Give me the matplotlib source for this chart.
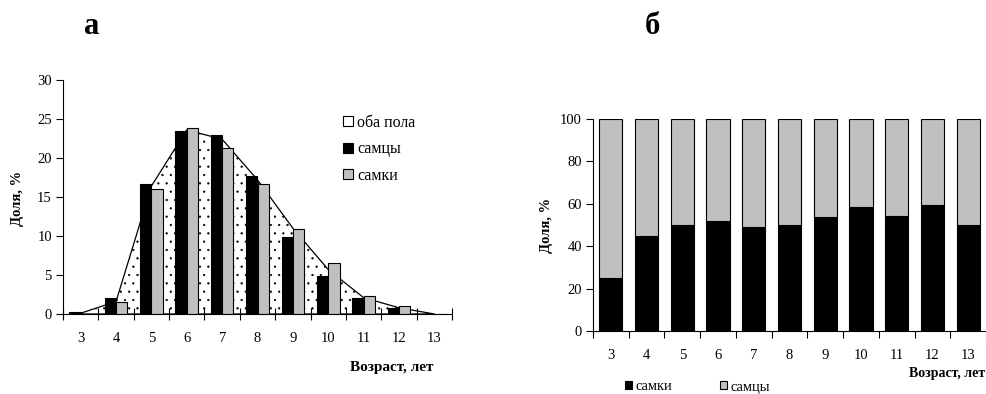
import numpy as np
import matplotlib
matplotlib.use("Agg")
import matplotlib.pyplot as plt
from matplotlib.patches import Patch

plt.rcParams['font.family'] = ['Liberation Serif', 'DejaVu Serif']
plt.rcParams['hatch.linewidth'] = 0.4

# data
ages = ['3', '4', '5', '6', '7', '8', '9', '10', '11', '12', '13']
both = [0.1, 1.6, 16.4, 23.6, 22.4, 17.2, 11.0, 5.7, 2.1, 0.8, 0.0]
males = [0.2, 2.0, 16.7, 23.5, 23.0, 17.7, 9.9, 4.85, 2.0, 0.75, 0.0]
females = [0.0, 1.5, 16.0, 23.9, 21.3, 16.7, 10.9, 6.55, 2.3, 1.0, 0.0]

# share of females per age, %
fem_share = [25, 45, 50, 51.7, 49.1, 50, 53.7, 58.4, 54.3, 59.5, 50]
male_share = [100 - f for f in fem_share]

W, H = 987, 394
fig = plt.figure(figsize=(W / 100, H / 100), dpi=100)


def box(l, t, r, b):
    return [l / W, 1 - b / H, (r - l) / W, (b - t) / H]


def px(x, y):
    return x / W, 1 - y / H


x = np.arange(len(ages))
edges = np.arange(len(ages) + 1) - 0.5

# ---- chart a
ax = fig.add_axes(box(63, 80, 452, 314))
ax.fill_between(x, both, color='white', hatch='..', edgecolor='black',
                linewidth=0.9, zorder=1)
w = 0.32
ax.bar(x - w / 2, males, w, color='black', edgecolor='black', linewidth=0.8, zorder=2)
ax.bar(x + w / 2, females, w, color='#c0c0c0', edgecolor='black', linewidth=0.8, zorder=2)
ax.set_xlim(-0.5, len(ages) - 0.5)
ax.set_ylim(0, 30)
ax.set_yticks(np.arange(0, 31, 5))
ax.set_xticks(edges)
ax.set_xticklabels([])
ax.set_xticks(x, minor=True)
ax.set_xticklabels(ages, minor=True)
ax.tick_params(axis='x', which='major', direction='inout', length=9, width=0.8)
ax.tick_params(axis='x', which='minor', length=0, pad=13, labelsize=10.5)
ax.tick_params(axis='y', direction='out', length=5, width=0.8, labelsize=10.5, pad=3)
for s in ['top', 'right']:
    ax.spines[s].set_visible(False)
for s in ['left', 'bottom']:
    ax.spines[s].set_linewidth(0.8)

handles = [Patch(facecolor='white', edgecolor='black', hatch='.', linewidth=0.8),
           Patch(facecolor='black', edgecolor='black', linewidth=0.8),
           Patch(facecolor='#c0c0c0', edgecolor='black', linewidth=0.8)]
fig.legend(handles, ['оба пола', 'самцы', 'самки'], loc='upper left',
           bbox_to_anchor=px(343, 115), frameon=False, fontsize=11.5,
           handlelength=0.6, handleheight=0.6, handletextpad=0.3,
           labelspacing=0.65, borderpad=0, borderaxespad=0)

fig.text(*px(18, 198), 'Доля, %', rotation=90, ha='center', va='center',
         fontsize=10.5, fontweight='bold')
fig.text(*px(392, 368), 'Возраст, лет', ha='center', va='center',
         fontsize=11, fontweight='bold')
fig.text(*px(92, 26), 'а', ha='center', va='center', fontsize=22, fontweight='bold')

# ---- chart b
bx = fig.add_axes(box(593, 119, 986, 331))
bw = 0.65
bx.bar(x, fem_share, bw, color='black', edgecolor='black', linewidth=0.8)
bx.bar(x, male_share, bw, bottom=fem_share, color='#c0c0c0', edgecolor='black',
       linewidth=0.8)
bx.set_xlim(-0.5, len(ages) - 0.5)
bx.set_ylim(0, 100)
bx.set_yticks(np.arange(0, 101, 20))
bx.set_xticks(edges)
bx.set_xticklabels([])
bx.set_xticks(x, minor=True)
bx.set_xticklabels(ages, minor=True)
bx.tick_params(axis='x', which='major', direction='out', length=5, width=0.8)
bx.tick_params(axis='x', which='minor', length=0, pad=13, labelsize=10.5)
bx.tick_params(axis='y', direction='out', length=5, width=0.8, labelsize=10.5, pad=3)
for s in ['top', 'right']:
    bx.spines[s].set_visible(False)
for s in ['left', 'bottom']:
    bx.spines[s].set_linewidth(0.8)

fig.legend([Patch(facecolor='black', edgecolor='black', linewidth=0.8),
            Patch(facecolor='#c0c0c0', edgecolor='black', linewidth=0.8)],
           ['самки', 'самцы'], loc='center left', bbox_to_anchor=px(625, 387),
           ncol=2, frameon=False, fontsize=10.5, handlelength=0.5, handleheight=0.5,
           handletextpad=0.2, columnspacing=3.3, borderpad=0, borderaxespad=0)

fig.text(*px(547, 225), 'Доля, %', rotation=90, ha='center', va='center',
         fontsize=10.5, fontweight='bold')
fig.text(*px(947, 373), 'Возраст, лет', ha='center', va='center',
         fontsize=10, fontweight='bold')
fig.text(*px(652, 26), 'б', ha='center', va='center', fontsize=22, fontweight='bold')

fig.savefig('out.png', dpi=100)
